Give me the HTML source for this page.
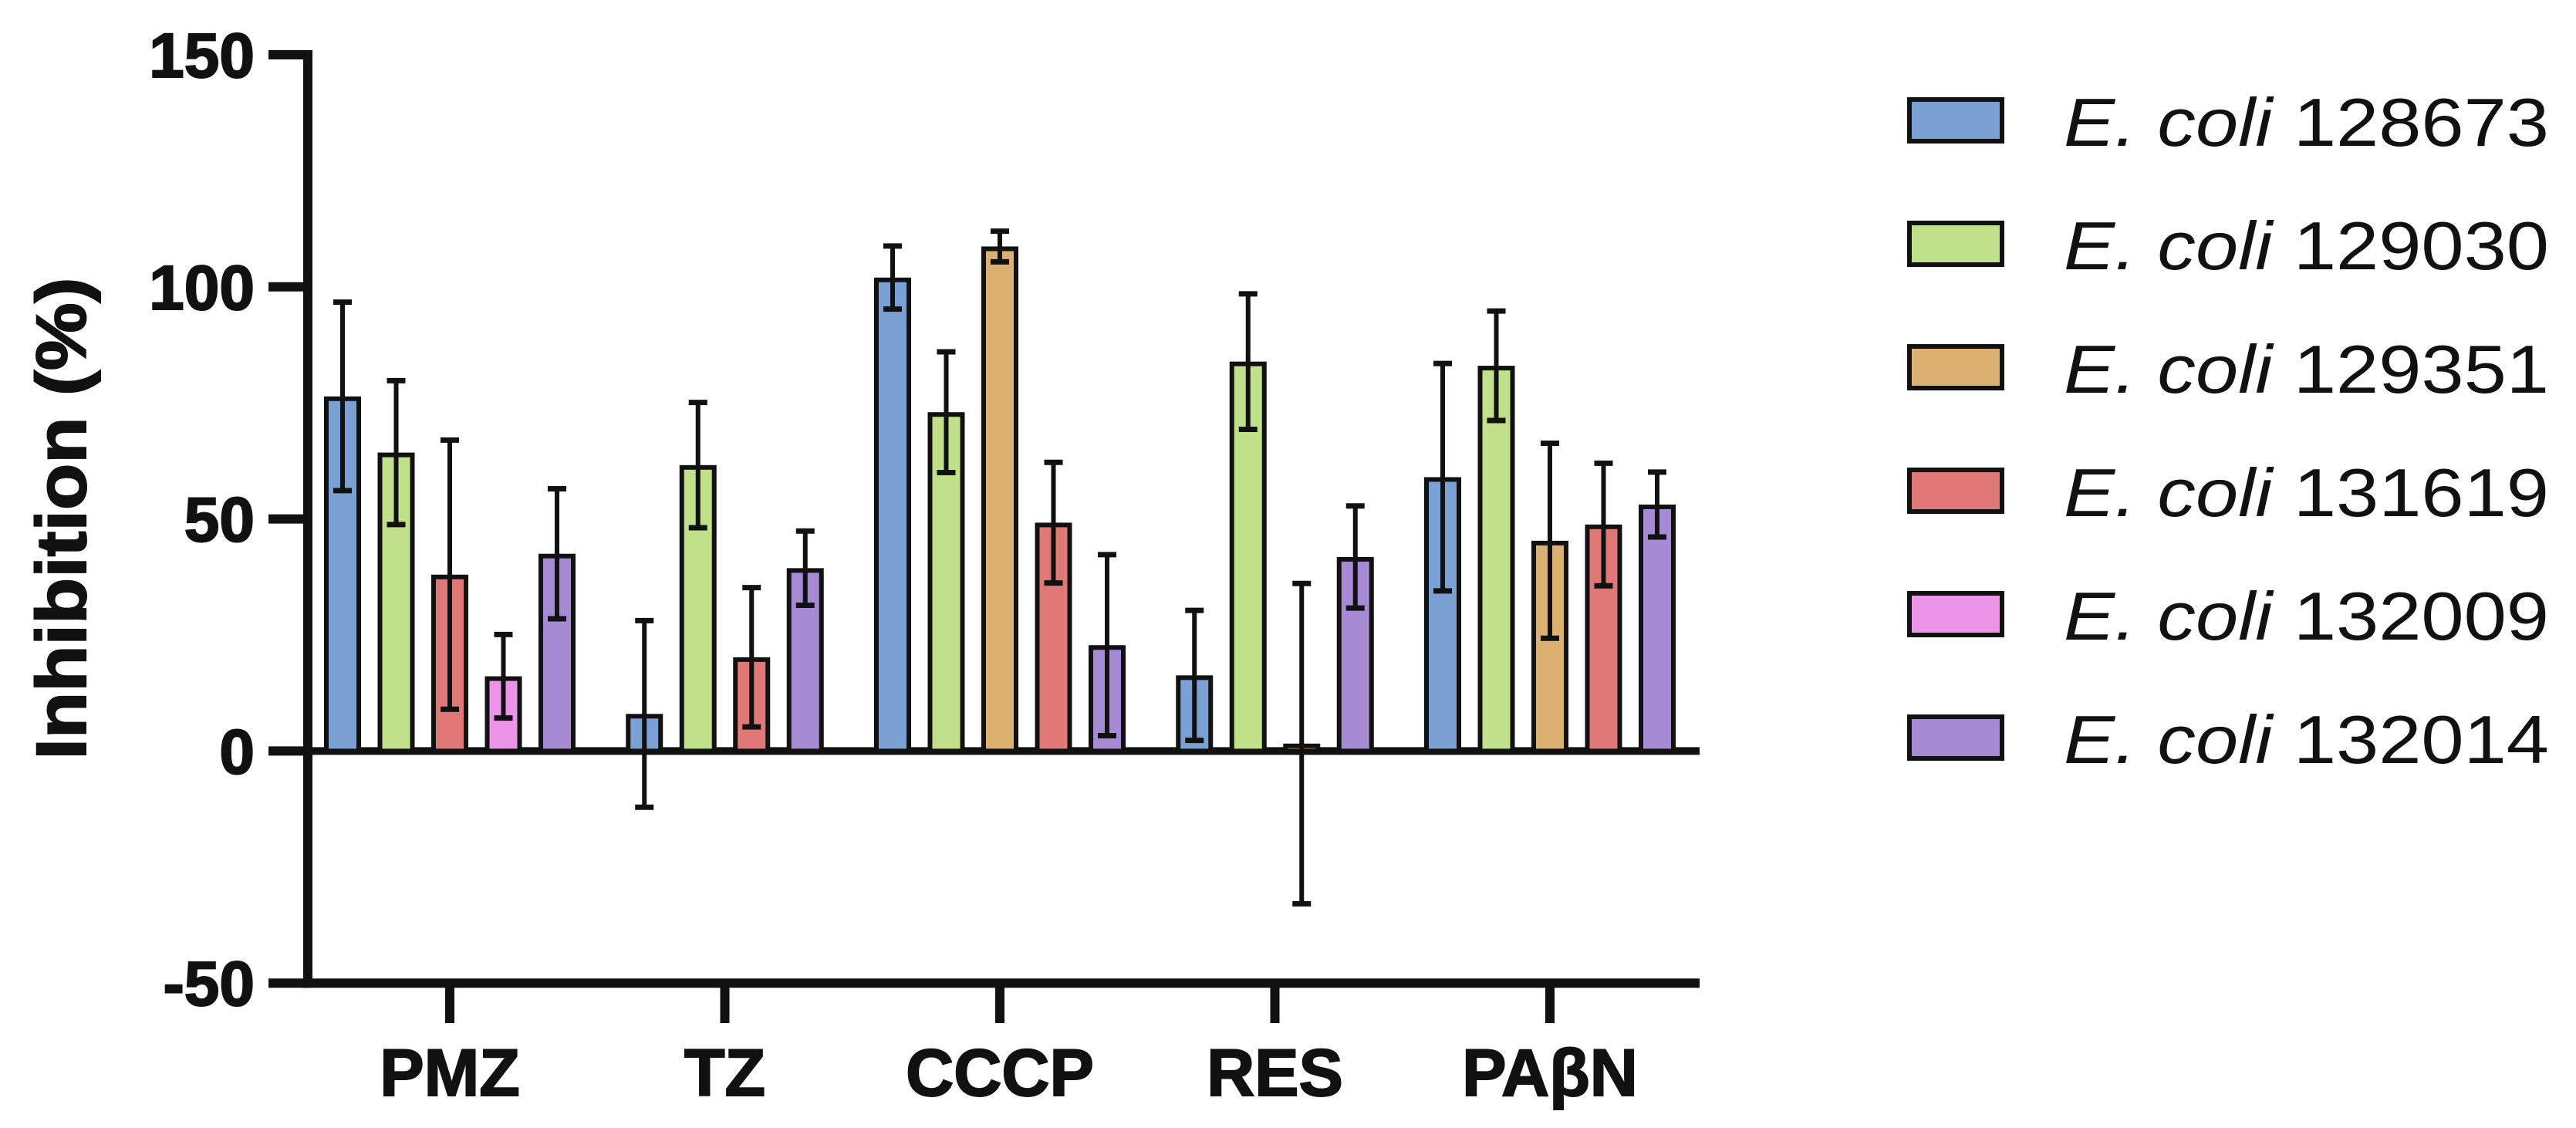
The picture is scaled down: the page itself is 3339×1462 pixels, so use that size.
<!DOCTYPE html>
<html><head><meta charset="utf-8"><style>
html,body{margin:0;padding:0;background:#fff;}
svg{display:block;}
text{font-family:"Liberation Sans",Arial,sans-serif;fill:#111;}
.bold{stroke:#111;stroke-width:2;}
</style></head><body>
<svg id="chart" width="3339" height="1462" viewBox="0 0 3339 1462" xmlns="http://www.w3.org/2000/svg">
<g id="axes"></g>
<g id="bars"></g>
<g id="legend"></g>
</svg>
<script>
const categories = ["PMZ","TZ","CCCP","RES","PAβN"];
const seriesNames = ["128673","129030","129351","131619","132009","132014"];
const seriesColors = ["#7ba0d4","#c0e08a","#dcb070","#e07878","#ec94e8","#a68bd4"];
// values per series per category (null = not tested)
const s128673 = [76.4, 8.0, 102.0, 16.3, 59.0];
const s129030 = [64.3, 61.6, 73.0, 83.9, 83.0];
const s129351 = [null, null, 108.7, 1.6, 45.3];
const s131619 = [38.0, 20.2, 49.2, null, 48.8];
const s132009 = [16.1, null, null, null, null];
const s132014 = [42.5, 39.4, 22.8, 41.8, 53.1];
const e128673 = [20.3, 20.1, 6.8, 14.0, 24.5];
const e129030 = [15.5, 13.5, 13.0, 14.6, 11.8];
const e129351 = [null, null, 3.3, 34.5, 21.0];
const e131619 = [29.0, 15.0, 13.0, null, 13.2];
const e132009 = [9.0, null, null, null, null];
const e132014 = [14.0, 8.0, 19.5, 11.0, 7.0];
const yTicks = [150, 100, 50, 0, -50];

const values = [s128673,s129030,s129351,s131619,s132009,s132014];
const errors = [e128673,e129030,e129351,e131619,e132009,e132014];

const NS = "http://www.w3.org/2000/svg";
const y0px = 973.4, pxPerUnit = 6.016;
function yScale(v){ return y0px - v*pxPerUnit; }
const catX0 = 583, catStep = 356.5;
function xScale(i){ return catX0 + i*catStep; }
const pitch = 69.5, barW = 42, sw = 6;

function mk(tag, attrs, parent){
  const el = document.createElementNS(NS, tag);
  for (const k in attrs) el.setAttribute(k, attrs[k]);
  parent.appendChild(el);
  return el;
}
const axes = document.getElementById('axes');
const bars = document.getElementById('bars');
const legend = document.getElementById('legend');

categories.forEach((c, ci) => {
  const present = [];
  values.forEach((s, si) => { if (s[ci] !== null) present.push(si); });
  const n = present.length;
  present.forEach((si, k) => {
    const cx = xScale(ci) + (k - (n-1)/2)*pitch;
    const v = values[si][ci], e = errors[si][ci];
    const yt = yScale(Math.max(v,0)), yb = yScale(Math.min(v,0));
    const r = mk('rect', {x: cx-barW/2, y: yt+sw/2, width: barW, height: Math.max(yb-yt-sw/2,1), fill: seriesColors[si], stroke:'#111', 'stroke-width': sw}, bars);
    
    
    const g = mk('g', {stroke:'#111', 'stroke-width':6}, bars);
    
    
    const hi = yScale(v+e), lo = yScale(v-e);
    mk('line', {x1:cx, x2:cx, y1:hi, y2:lo}, g);
    mk('line', {x1:cx-12, x2:cx+12, y1:hi, y2:hi, 'stroke-width':7}, g);
    mk('line', {x1:cx-12, x2:cx+12, y1:lo, y2:lo, 'stroke-width':7}, g);
  });
});

const yLine = mk('line', {x1:399, x2:399, y1:yScale(150)-6, y2:yScale(-50)+6, stroke:'#111', 'stroke-width':12}, axes);


const zLine = mk('line', {x1:393, x2:2203, y1:yScale(0), y2:yScale(0), stroke:'#111', 'stroke-width':10}, axes);


const xLine = mk('line', {x1:393, x2:2203, y1:yScale(-50), y2:yScale(-50), stroke:'#111', 'stroke-width':12}, axes);


yTicks.forEach(t => {
  const y = yScale(t);
  const tk = mk('line', {x1:348, x2:399, y1:y, y2:y, stroke:'#111', 'stroke-width':12}, axes);
  
  
  const tx = mk('text', {x:330, y:y+29, 'text-anchor':'end', 'font-size':82, 'font-weight':'bold', class:'bold'}, axes);
  tx.textContent = String(t);
  
  
});
categories.forEach((c, ci) => {
  const x = xScale(ci);
  const tk = mk('line', {x1:x, x2:x, y1:yScale(-50), y2:1326, stroke:'#111', 'stroke-width':12}, axes);
  
  
  const tx = mk('text', {x:x, y:1420, 'text-anchor':'middle', 'font-size':86, 'font-weight':'bold', class:'bold'}, axes);
  tx.textContent = c;
  
  
});
const yt = mk('text', {x:0, y:0, 'text-anchor':'middle', 'font-size':92, 'font-weight':'bold', class:'bold', transform:'translate(111,672) rotate(-90)', textLength:625, lengthAdjust:'spacingAndGlyphs'}, axes);
yt.textContent = 'Inhibition (%)';



seriesNames.forEach((n, i) => {
  const y = 126 + i*160;
  const g = mk('g', {}, legend);
  
  
  mk('rect', {x:2475, y:y+3, width:120, height:54, fill:seriesColors[i], stroke:'#111', 'stroke-width':6}, g);
  const t = mk('text', {x:2675, y:y+63, 'font-size':88, textLength:629, lengthAdjust:'spacingAndGlyphs'}, g);
  const it = document.createElementNS(NS, 'tspan');
  it.setAttribute('font-style', 'italic');
  it.textContent = 'E. coli';
  t.appendChild(it);
  t.appendChild(document.createTextNode(' ' + n));
});
</script>
</body></html>
